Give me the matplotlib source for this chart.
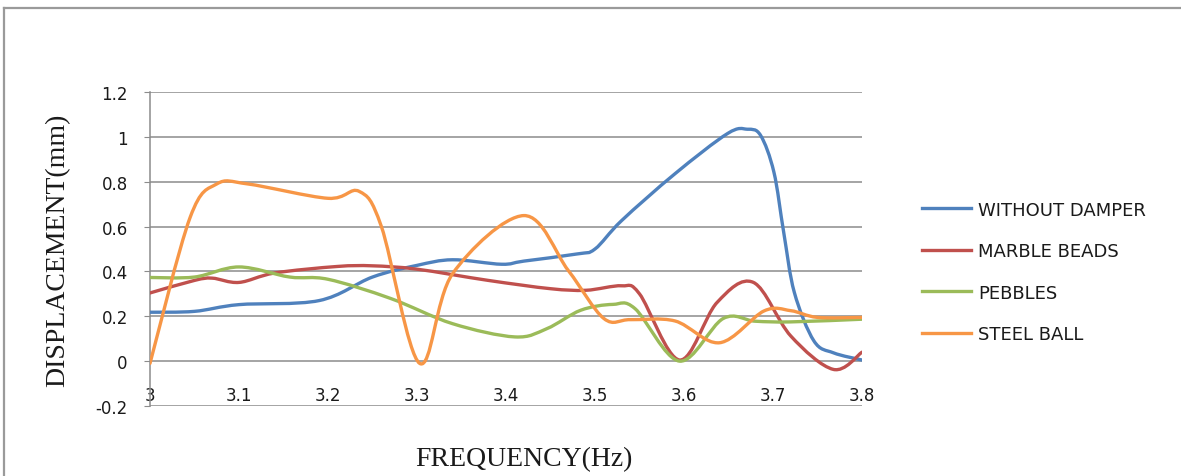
import numpy as np
import matplotlib
matplotlib.use("Agg")
import matplotlib.pyplot as plt
from matplotlib.path import Path
from matplotlib.patches import PathPatch
from matplotlib.lines import Line2D

# displacement readings (mm) against excitation frequency (Hz)
freq_plain = [3.00, 3.05, 3.10, 3.19, 3.25, 3.30, 3.34, 3.395, 3.42, 3.48, 3.50,
              3.53, 3.59, 3.649, 3.671, 3.686, 3.701, 3.712, 3.724, 3.746, 3.768, 3.80]
disp_plain = [0.218, 0.222, 0.252, 0.27, 0.375, 0.427, 0.452, 0.432, 0.446, 0.478, 0.50,
              0.627, 0.836, 1.015, 1.034, 1.007, 0.843, 0.575, 0.306, 0.09, 0.037, 0.005]

freq_marble = [3.00, 3.05, 3.07, 3.10, 3.14, 3.21, 3.25, 3.30, 3.38, 3.45, 3.49,
               3.53, 3.55, 3.595, 3.637, 3.678, 3.72, 3.768, 3.80]
disp_marble = [0.304, 0.36, 0.37, 0.351, 0.393, 0.422, 0.425, 0.41, 0.36, 0.323, 0.316,
               0.336, 0.30, 0.005, 0.261, 0.351, 0.112, -0.037, 0.04]

freq_pebble = [3.00, 3.05, 3.10, 3.157, 3.20, 3.27, 3.34, 3.41, 3.446, 3.484, 3.52,
               3.545, 3.595, 3.644, 3.68, 3.72, 3.80]
disp_pebble = [0.373, 0.375, 0.42, 0.375, 0.365, 0.28, 0.167, 0.108, 0.145, 0.227, 0.253,
               0.234, 0.0, 0.19, 0.178, 0.175, 0.187]

freq_steel = [3.00, 3.045, 3.075, 3.11, 3.20, 3.235, 3.26, 3.303, 3.34, 3.42, 3.47,
              3.51, 3.54, 3.59, 3.64, 3.69, 3.72, 3.75, 3.80]
disp_steel = [-0.01, 0.64, 0.79, 0.79, 0.726, 0.757, 0.60, -0.01, 0.39, 0.649, 0.404,
              0.19, 0.185, 0.179, 0.082, 0.224, 0.225, 0.195, 0.195]

series_names = ["WITHOUT DAMPER", "MARBLE BEADS", "PEBBLES", "STEEL BALL"]
series_colors = ["#4F81BD", "#C0504D", "#9BBB59", "#F79646"]

x_ticks = [3.0, 3.1, 3.2, 3.3, 3.4, 3.5, 3.6, 3.7, 3.8]
x_labels = ["3", "3.1", "3.2", "3.3", "3.4", "3.5", "3.6", "3.7", "3.8"]
y_ticks = [-0.2, 0, 0.2, 0.4, 0.6, 0.8, 1.0, 1.2]
y_labels = ["-0.2", "0", "0.2", "0.4", "0.6", "0.8", "1", "1.2"]


def smooth_path(xs, ys):
    # spreadsheet-style smoothed line: cubic bezier through every point
    pts = np.column_stack([xs, ys]).astype(float)
    verts = [pts[0]]
    codes = [Path.MOVETO]
    n = len(pts)
    for i in range(n - 1):
        p0 = pts[i - 1] if i > 0 else pts[i]
        p1 = pts[i]
        p2 = pts[i + 1]
        p3 = pts[i + 2] if i + 2 < n else pts[i + 1]
        c1 = p1 + (p2 - p0) / 6.0
        c2 = p2 - (p3 - p1) / 6.0
        verts += [c1, c2, p2]
        codes += [Path.CURVE4] * 3
    return Path(verts, codes)


fig = plt.figure(figsize=(11.81, 4.77), dpi=100)
ax = fig.add_axes([150 / 1181, 1 - 407 / 477, 712 / 1181, 314 / 477])

# chart frame (top and left edges fall inside the image)
frame_top = 1 - 9 / 477
frame_left = 4 / 1181
fig.add_artist(Line2D([frame_left, 1.0], [frame_top, frame_top],
                      transform=fig.transFigure, color="#9a9a9a", linewidth=1.6))
fig.add_artist(Line2D([frame_left, frame_left], [0.0, frame_top],
                      transform=fig.transFigure, color="#9a9a9a", linewidth=1.6))

series = [(freq_plain, disp_plain), (freq_marble, disp_marble),
          (freq_pebble, disp_pebble), (freq_steel, disp_steel)]
handles = []
for (xs, ys), name, col in zip(series, series_names, series_colors):
    ax.add_patch(PathPatch(smooth_path(xs, ys), fill=False, edgecolor=col,
                           linewidth=2.4, capstyle="round", joinstyle="round",
                           zorder=3))
    handles.append(Line2D([], [], color=col, linewidth=2.4, label=name))

ax.set_xlim(3.0, 3.8)
ax.set_ylim(-0.2, 1.2)
ax.set_yticks(y_ticks)
ax.set_yticklabels(y_labels)
ax.set_xticks(x_ticks)
ax.set_xticklabels(x_labels)

for y in y_ticks:
    ax.axhline(y, color="#8c8c8c", linewidth=1.1, zorder=1)

for side in ["top", "right", "bottom"]:
    ax.spines[side].set_visible(False)
ax.spines["left"].set_color("#8c8c8c")
ax.spines["left"].set_linewidth(1.1)

ax.tick_params(axis="y", length=4, color="#8c8c8c", pad=12, labelsize=12,
               labelcolor="#1a1a1a")
ax.tick_params(axis="x", length=0, pad=-1.5, labelsize=12, labelcolor="#1a1a1a")
for lab in ax.get_xticklabels():
    lab.set_verticalalignment("bottom")

ax.set_ylabel("DISPLACEMENT(mm)", fontfamily="Liberation Serif", fontsize=20,
              color="#1a1a1a")
ax.yaxis.set_label_coords(-0.112, 0.5)
ax.set_xlabel("FREQUENCY(Hz)", fontfamily="Liberation Serif", fontsize=20,
              color="#1a1a1a")
ax.xaxis.set_label_coords(0.525, -0.128)

fig.legend(handles=handles, loc="center left",
           bbox_to_anchor=(913 / 1181, 1 - 273 / 477), frameon=False,
           borderpad=0, handlelength=2.7, handletextpad=0.4,
           labelspacing=1.3, fontsize=13, labelcolor="#1a1a1a")

fig.savefig("out.png", dpi=100)
